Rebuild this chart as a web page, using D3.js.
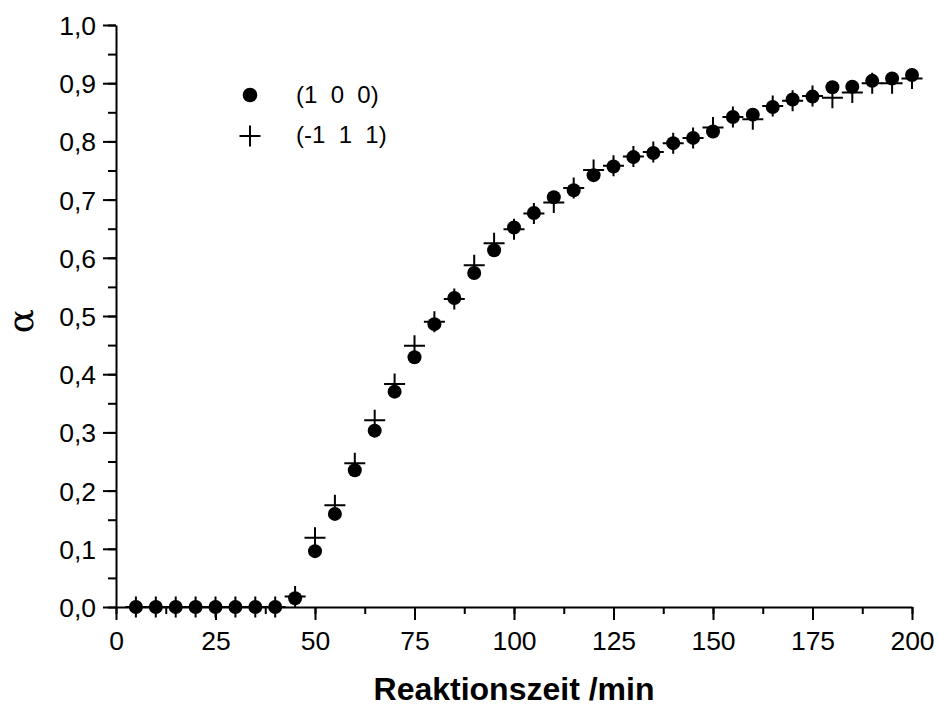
<!DOCTYPE html>
<html>
<head>
<meta charset="utf-8">
<script src="https://cdn.jsdelivr.net/npm/d3@7"></script>
<style>
  body { margin: 0; background: #fff; }
  svg text { font-family: "Liberation Sans", Arial, sans-serif; fill: #000; }
</style>
</head>
<body>
<div class="graphics"></div>
<script>
// Reaktionszeit in min
var zeit = [5, 10, 15, 20, 25, 30, 35, 40, 45, 50,
            55, 60, 65, 70, 75, 80, 85, 90, 95, 100,
            105, 110, 115, 120, 125, 130, 135, 140, 145, 150,
            155, 160, 165, 170, 175, 180, 185, 190, 195, 200];

// alpha fuer (1 0 0) - Punkte
var alpha100 = [0, 0, 0, 0, 0, 0, 0, 0, 0.015, 0.096,
                0.160, 0.235, 0.303, 0.370, 0.429, 0.486, 0.531, 0.574, 0.613, 0.652,
                0.677, 0.704, 0.716, 0.742, 0.757, 0.773, 0.780, 0.797, 0.806, 0.817,
                0.842, 0.846, 0.859, 0.872, 0.877, 0.893, 0.894, 0.904, 0.908, 0.914];

// alpha fuer (-1 1 1) - Kreuze
var alpha111 = [0, 0, 0, 0, 0, 0, 0, 0, 0.018, 0.119,
                0.175, 0.247, 0.321, 0.383, 0.449, 0.490, 0.529, 0.587, 0.625, 0.649,
                0.676, 0.695, 0.720, 0.751, 0.758, 0.774, 0.782, 0.797, 0.806, 0.824,
                0.842, 0.838, 0.861, 0.870, 0.878, 0.875, 0.884, 0.900, 0.900, 0.908];

var xTicks = [0, 25, 50, 75, 100, 125, 150, 175, 200];
var yTicks = [0, 0.1, 0.2, 0.3, 0.4, 0.5, 0.6, 0.7, 0.8, 0.9, 1.0];
var legendNames = ["(1  0  0)", "(-1  1  1)"];

var W = 939, H = 706;
// ojo: "top" choca con window.top
var mLeft = 116, mRight = 912, mTop = 25, mBottom = 607;

var svg = d3.select(".graphics").append("svg")
    .attr("width", W)
    .attr("height", H);

var x = d3.scaleLinear().domain([0, 200]).range([mLeft, mRight]);
var y = d3.scaleLinear().domain([0, 1]).range([mBottom, mTop]);

var fmt = function(d){ return d3.format(".1f")(d).replace(".", ","); };

// kleine Striche zuerst
svg.append("g")
    .attr("transform", "translate(0," + mBottom + ")")
    .call(d3.axisBottom(x).tickValues(d3.range(0, 201, 12.5)).tickSize(7).tickSizeOuter(0).tickFormat(""))
    .call(function(g){ g.select(".domain").remove(); });

svg.append("g")
    .attr("transform", "translate(" + mLeft + ",0)")
    .call(d3.axisLeft(y).tickValues(d3.range(0, 1.001, 0.05)).tickSize(8).tickSizeOuter(0).tickFormat(""))
    .call(function(g){ g.select(".domain").remove(); });

// Hauptachsen
var gx = svg.append("g")
    .attr("transform", "translate(0," + mBottom + ")")
    .call(d3.axisBottom(x).tickValues(xTicks).tickSize(13).tickSizeOuter(0).tickPadding(11));
gx.selectAll("text").attr("font-size", 26.5).attr("font-family", "Liberation Sans, Arial, sans-serif");

var gy = svg.append("g")
    .attr("transform", "translate(" + mLeft + ",0)")
    .call(d3.axisLeft(y).tickValues(yTicks).tickSize(13).tickSizeOuter(0).tickPadding(7).tickFormat(fmt));
gy.selectAll("text").attr("font-size", 26.5).attr("font-family", "Liberation Sans, Arial, sans-serif").attr("dy", "0.36em");

svg.selectAll(".domain, .tick line").attr("stroke", "#000").attr("stroke-width", 2);

// Achsentitel
svg.append("text")
    .attr("x", (mLeft + mRight) / 2)
    .attr("y", 700)
    .attr("text-anchor", "middle")
    .attr("font-size", 32)
    .attr("font-weight", "bold")
    .text("Reaktionszeit /min");

svg.append("text")
    .attr("transform", "translate(33,321) rotate(-90)")
    .attr("text-anchor", "middle")
    .style("font-family", "'DejaVu Serif', serif")
    .attr("font-size", 36)
    .text("α");

// Daten
var pts111 = zeit.map(function(t, i){ return {t: t, a: alpha111[i]}; });
var pts100 = zeit.map(function(t, i){ return {t: t, a: alpha100[i]}; });

var plusPath = "M-10.5,0H10.5M0,-10.5V10.5";

svg.append("g").selectAll("path")
    .data(pts111)
    .enter()
    .append("path")
    .attr("d", plusPath)
    .attr("transform", function(d){ return "translate(" + x(d.t) + "," + y(d.a) + ")"; })
    .attr("stroke", "#000")
    .attr("stroke-width", 2)
    .attr("fill", "none");

svg.append("g").selectAll("circle")
    .data(pts100)
    .enter()
    .append("circle")
    .attr("cx", function(d){ return x(d.t); })
    .attr("cy", function(d){ return y(d.a); })
    .attr("r", 7)
    .attr("fill", "#000");

// Legende
var leg = svg.append("g");
leg.append("circle").attr("cx", 250).attr("cy", 95).attr("r", 7.3).attr("fill", "#000");
leg.append("path").attr("d", plusPath)
    .attr("transform", "translate(250,136)")
    .attr("stroke", "#000").attr("stroke-width", 2).attr("fill", "none");

leg.selectAll("text")
    .data(legendNames)
    .enter()
    .append("text")
    .attr("x", 296)
    .attr("y", function(d, i){ return 103 + i * 40; })
    .attr("font-size", 24)
    .style("white-space", "pre")
    .text(function(d){ return d; });
</script>
</body>
</html>
